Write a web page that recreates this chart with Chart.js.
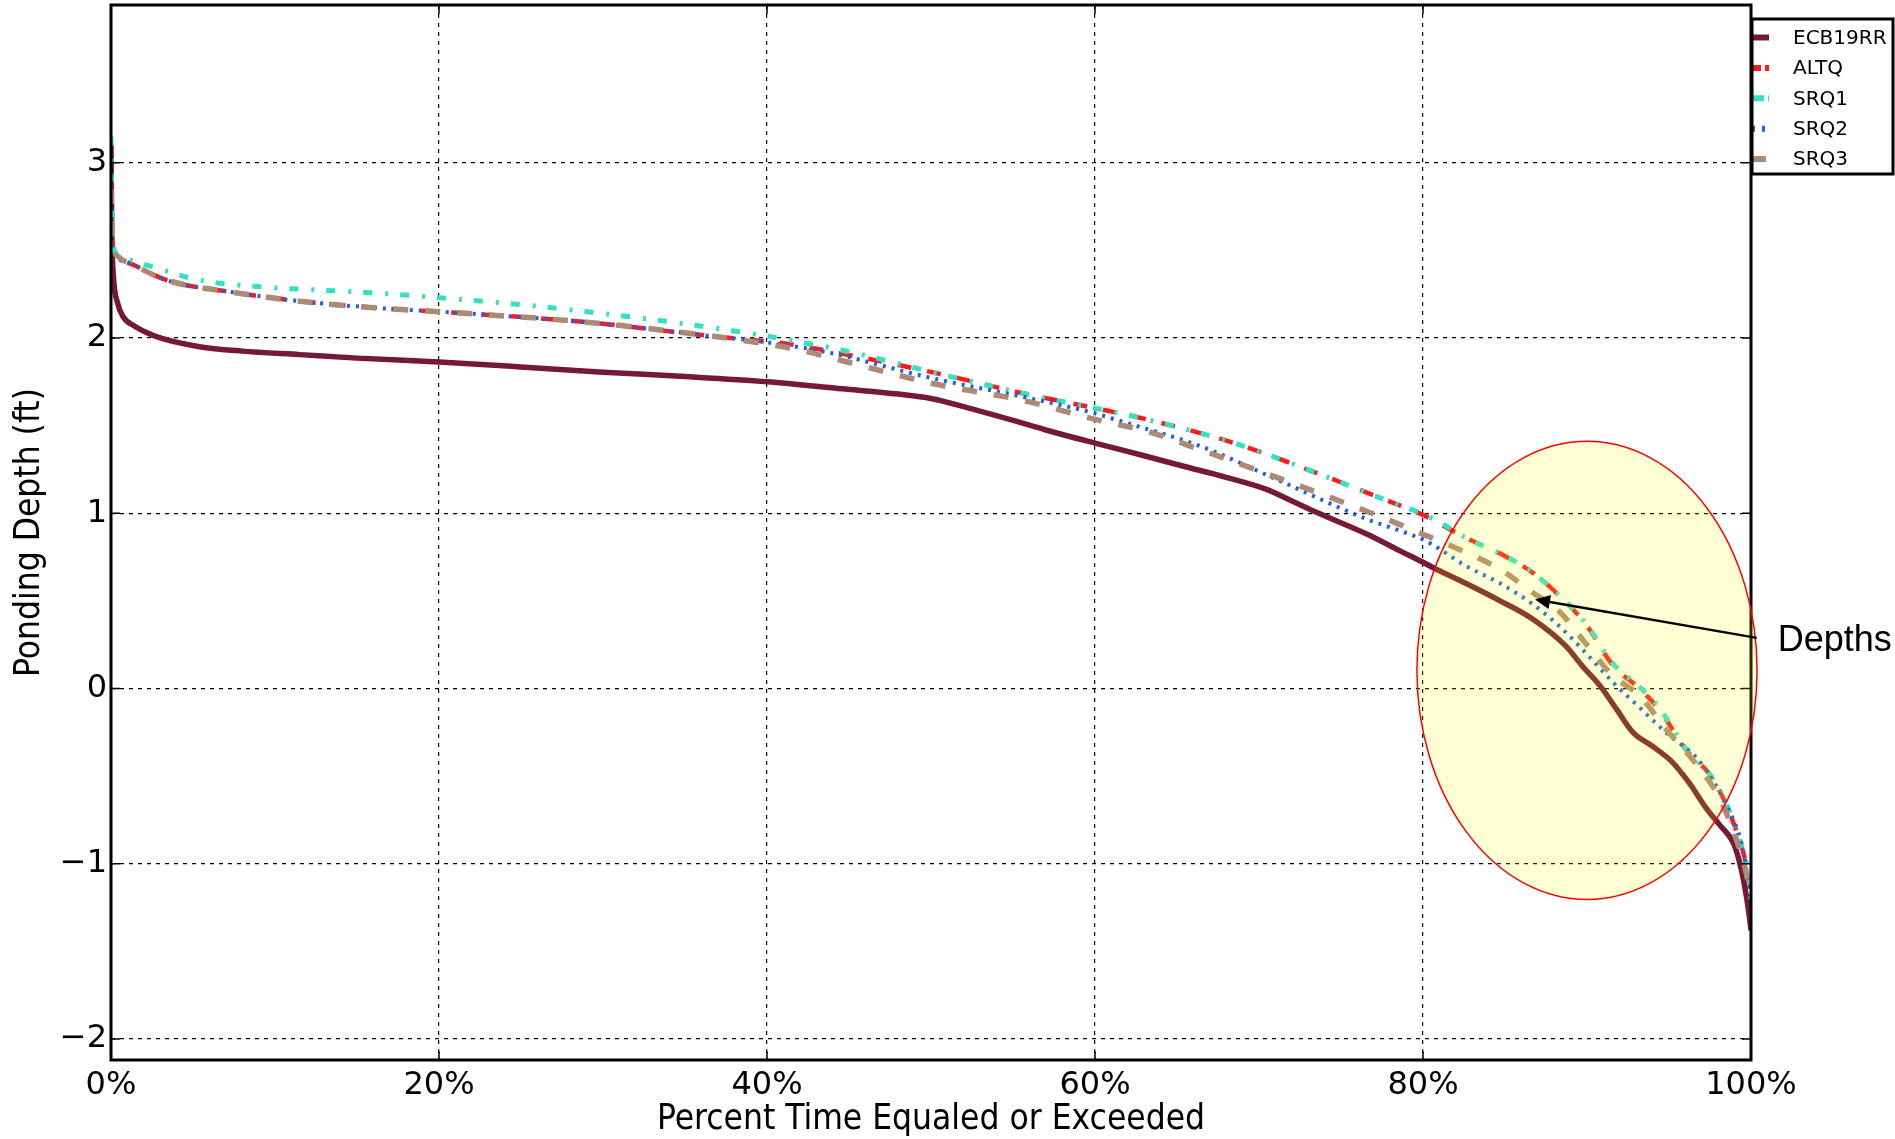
<!DOCTYPE html>
<html>
<head>
<meta charset="utf-8">
<script src="https://cdn.jsdelivr.net/npm/chart.js@4.4.1/dist/chart.umd.min.js"></script>
<style>
  html, body { margin: 0; padding: 0; background: #fff; }
  #wrap { width: 1895px; height: 1139px; }
</style>
</head>
<body>
<div id="wrap"><canvas id="depthChart"></canvas></div>
<script>
// [percent time equaled or exceeded, ponding depth ft]
const ecb19rr = [
  [0, 3.10], [0.05, 2.6], [0.15, 2.35], [0.4, 2.2], [0.75, 2.12], [1.4, 2.07], [2.2, 2.03],
  [3, 2.0], [5.4, 1.95], [8, 1.925], [11.5, 1.905], [15, 1.885], [20, 1.863], [25, 1.835],
  [30, 1.805], [35, 1.78], [40, 1.75], [44.6, 1.71], [48, 1.68], [50, 1.655], [52.7, 1.59],
  [55, 1.53], [57, 1.475], [60, 1.40], [63, 1.328], [65.4, 1.268], [68, 1.205], [70.5, 1.135],
  [72, 1.07], [73.5, 1.005], [76.6, 0.88], [78.6, 0.785], [80, 0.72], [80.6, 0.69], [82.6, 0.60],
  [84.7, 0.50], [86.7, 0.395], [88.7, 0.243], [89.7, 0.13], [90.8, 0.015], [91.8, -0.118],
  [92.8, -0.25], [94, -0.33], [95.2, -0.42], [96.2, -0.535], [97.3, -0.687], [98.1, -0.78],
  [98.9, -0.877], [99.3, -0.99], [99.6, -1.12], [99.9, -1.30], [100, -1.38]
];
const altq = [
  [0, 2.9], [0.05, 2.65], [0.15, 2.5], [0.5, 2.45], [1.3, 2.42], [3.4, 2.33], [7.5, 2.26],
  [11.5, 2.21], [16.4, 2.17], [20, 2.15], [29, 2.09], [36.7, 2.01], [40, 1.98], [41, 1.97],
  [44.6, 1.91], [50.3, 1.80], [55.8, 1.68], [60, 1.60], [63.4, 1.53], [68.5, 1.40],
  [73.5, 1.23], [77.6, 1.08], [80, 0.99], [82.6, 0.86], [84.7, 0.77], [86.7, 0.66],
  [88.3, 0.53], [89.9, 0.37], [91.6, 0.13], [93.2, 0.0], [94.4, -0.12], [96, -0.345],
  [97.7, -0.52], [98.9, -0.76], [99.7, -1.0], [100, -1.15]
];
const srq1 = [
  [0, 3.15], [0.05, 2.7], [0.15, 2.52], [0.5, 2.47], [1.3, 2.44], [2.4, 2.41], [5.4, 2.33],
  [9.5, 2.29], [15.6, 2.26], [20, 2.23], [25, 2.19], [29, 2.15], [35, 2.08], [40, 2.01],
  [44.6, 1.93], [50.3, 1.80], [55.8, 1.68], [60, 1.60], [63.4, 1.53], [68.5, 1.40],
  [73.5, 1.23], [77.6, 1.08], [80, 0.995], [81, 0.95], [82.6, 0.86], [84.7, 0.77],
  [86.7, 0.66], [88.3, 0.53], [89.9, 0.375], [91.6, 0.14], [93.2, 0.01], [94.4, -0.11],
  [96, -0.34], [97.7, -0.52], [98.9, -0.75], [99.7, -0.99], [100, -1.12]
];
const srq2 = [
  [0, 3.0], [0.05, 2.6], [0.15, 2.5], [0.5, 2.45], [1.3, 2.42], [3.4, 2.33], [7.5, 2.26],
  [11.5, 2.21], [16.4, 2.17], [20, 2.15], [29, 2.09], [36.7, 2.01], [40, 1.975],
  [43.6, 1.92], [50.1, 1.77], [55.8, 1.66], [60, 1.57], [61.4, 1.53], [66.5, 1.38],
  [71.5, 1.175], [76.6, 0.965], [78.6, 0.90], [80, 0.85], [80.6, 0.82], [82.6, 0.70],
  [84.7, 0.60], [86.7, 0.48], [88.3, 0.357], [89.9, 0.205], [91.6, 0.034], [93.2, -0.108],
  [94.8, -0.25], [96.9, -0.42], [98.5, -0.668], [99.5, -0.915], [99.8, -1.085], [100, -1.2]
];
const srq3 = [
  [0, 2.85], [0.05, 2.62], [0.15, 2.52], [0.5, 2.46], [1.3, 2.42], [3.4, 2.33], [7.5, 2.26],
  [11.5, 2.21], [16.4, 2.17], [20, 2.15], [29, 2.09], [36.7, 2.01], [40, 1.965],
  [41.8, 1.935], [44.6, 1.87], [50.1, 1.74], [55.8, 1.64], [59.4, 1.55], [61.2, 1.51],
  [63.1, 1.47], [66.5, 1.36], [71.5, 1.19], [76.6, 1.01], [78.6, 0.935], [80, 0.88],
  [81.8, 0.81], [84.7, 0.68], [86.7, 0.546], [88.3, 0.44], [89.9, 0.26], [91.6, 0.07],
  [93.2, -0.04], [94.8, -0.23], [96.9, -0.46], [98.1, -0.63], [99.1, -0.86], [99.7, -1.05],
  [100, -1.2]
];

const seriesNames = ["ECB19RR", "ALTQ", "SRQ1", "SRQ2", "SRQ3"];
const xTicks = [0, 20, 40, 60, 80, 100];
const yTicks = [-2, -1, 0, 1, 2, 3];

// callout ellipse + arrow, in data units
const calloutCenter = [90.0, 0.103];
const calloutRadius = [10.37, 1.307];
const arrowTail = [100.35, 0.289];
const arrowTip = [86.83, 0.508];
const calloutText = "Depths";

const TICK_FONT = { family: "DejaVu Sans", size: 32 };
const TITLE_FONT = { family: "DejaVu Sans Condensed, DejaVu Sans", size: 35 };

function toXY(arr) {
  return arr.map((p) => ({ x: p[0], y: p[1] }));
}

function makeSet(label, arr, color, width, dash, order) {
  return {
    label,
    data: toXY(arr),
    borderColor: color,
    backgroundColor: color,
    borderWidth: width,
    borderDash: dash,
    borderCapStyle: "butt",
    borderJoinStyle: "round",
    pointRadius: 0,
    fill: false,
    cubicInterpolationMode: "monotone",
    order,
  };
}

// frame: inward ticks + thick box round the plot
const framePlugin = {
  id: "frame",
  afterDatasetsDraw(chart) {
    const { ctx, chartArea: a, scales } = chart;
    ctx.save();
    ctx.strokeStyle = "#000";
    ctx.lineWidth = 1.5;
    ctx.setLineDash([]);
    ctx.beginPath();
    for (const v of xTicks) {
      const px = scales.x.getPixelForValue(v);
      ctx.moveTo(px, a.bottom); ctx.lineTo(px, a.bottom - 9);
      ctx.moveTo(px, a.top); ctx.lineTo(px, a.top + 9);
    }
    for (const v of yTicks) {
      const py = scales.y.getPixelForValue(v);
      ctx.moveTo(a.left, py); ctx.lineTo(a.left + 9, py);
      ctx.moveTo(a.right, py); ctx.lineTo(a.right - 9, py);
    }
    ctx.stroke();
    ctx.lineWidth = 3;
    ctx.strokeRect(a.left, a.top, a.right - a.left, a.bottom - a.top);
    ctx.restore();
  },
};

const calloutPlugin = {
  id: "callout",
  afterDatasetsDraw(chart) {
    const { ctx, scales } = chart;
    const sx = scales.x, sy = scales.y;
    const cx = sx.getPixelForValue(calloutCenter[0]);
    const cy = sy.getPixelForValue(calloutCenter[1]);
    const rx = sx.getPixelForValue(calloutCenter[0] + calloutRadius[0]) - cx;
    const ry = cy - sy.getPixelForValue(calloutCenter[1] + calloutRadius[1]);
    ctx.save();
    ctx.beginPath();
    ctx.ellipse(cx, cy, rx, ry, 0, 0, Math.PI * 2);
    ctx.fillStyle = "rgba(255,255,0,0.16)";
    ctx.fill();
    ctx.strokeStyle = "#ff0000";
    ctx.lineWidth = 1.5;
    ctx.stroke();

    const tx = sx.getPixelForValue(arrowTail[0]), ty = sy.getPixelForValue(arrowTail[1]);
    const hx = sx.getPixelForValue(arrowTip[0]), hy = sy.getPixelForValue(arrowTip[1]);
    const ang = Math.atan2(hy - ty, hx - tx);
    const headLen = 15, headW = 7;
    const bx = hx - headLen * Math.cos(ang), by = hy - headLen * Math.sin(ang);
    ctx.strokeStyle = "#000";
    ctx.fillStyle = "#000";
    ctx.lineWidth = 2.3;
    ctx.beginPath();
    ctx.moveTo(tx, ty);
    ctx.lineTo(bx, by);
    ctx.stroke();
    ctx.beginPath();
    ctx.moveTo(hx, hy);
    ctx.lineTo(bx + headW * Math.sin(ang), by - headW * Math.cos(ang));
    ctx.lineTo(bx - headW * Math.sin(ang), by + headW * Math.cos(ang));
    ctx.closePath();
    ctx.fill();

    ctx.font = "36px 'Liberation Sans', Arial, sans-serif";
    ctx.textAlign = "left";
    ctx.textBaseline = "alphabetic";
    ctx.fillText(calloutText, tx + 21, ty + 13);
    ctx.restore();
  },
};

// legend swatch dashes (shorter than the plotted ones so a few show)
const legendDash = [[], [9, 4], [12, 4], [3, 7], [14, 4]];

// legend box sitting on the right edge of the plot
const legendBoxPlugin = {
  id: "legendBox",
  afterDraw(chart) {
    const { ctx, chartArea: a } = chart;
    const left = a.right + 1, top = 19, right = 1893, bottom = 174;
    ctx.save();
    ctx.fillStyle = "#fff";
    ctx.fillRect(left, top, right - left, bottom - top);
    chart.data.datasets.forEach((ds, i) => {
      const y = 37.5 + i * 30.4;
      ctx.strokeStyle = ds.borderColor;
      ctx.lineWidth = 6;
      ctx.lineCap = "butt";
      ctx.setLineDash(legendDash[i]);
      ctx.beginPath();
      ctx.moveTo(left, y);
      ctx.lineTo(left + 17, y);
      ctx.stroke();
      ctx.setLineDash([]);
      ctx.fillStyle = "#000";
      ctx.font = "20px 'DejaVu Sans'";
      ctx.textBaseline = "middle";
      ctx.fillText(ds.label, 1793, y + 1);
    });
    ctx.strokeStyle = "#000";
    ctx.lineWidth = 3;
    ctx.strokeRect(left, top, right - left, bottom - top);
    ctx.restore();
  },
};

const datasets = [
  makeSet(seriesNames[0], ecb19rr, "#741a33", 5.5, [], 5),
  makeSet(seriesNames[1], altq, "#ff1a1a", 4.5, [14, 16], 4),
  makeSet(seriesNames[2], srq1, "#33e0c4", 5, [9, 13, 3, 12], 3),
  makeSet(seriesNames[3], srq2, "#1f5fe6", 4, [3, 6], 2),
  makeSet(seriesNames[4], srq3, "#ad8a72", 5.5, [15, 17], 1),
];

new Chart(document.getElementById("depthChart"), {
  type: "line",
  data: { datasets },
  plugins: [framePlugin, calloutPlugin, legendBoxPlugin],
  options: {
    responsive: true,
    maintainAspectRatio: false,
    animation: false,
    layout: { padding: { top: 5, right: 144, left: 0, bottom: 0 } },
    plugins: { legend: { display: false }, tooltip: { enabled: false } },
    scales: {
      x: {
        type: "linear",
        min: 0,
        max: 100,
        afterBuildTicks: (axis) => { axis.ticks = xTicks.map((v) => ({ value: v })); },
        afterFit: (axis) => { axis.height = 79; axis.paddingLeft = 0; axis.paddingRight = 0; },
        ticks: {
          color: "#000",
          font: TICK_FONT,
          padding: 6,
          maxRotation: 0,
          callback: (v) => v + "%",
        },
        grid: { color: "#000", lineWidth: 1.2, drawTicks: false },
        border: { display: false, dash: [4, 5] },
        title: {
          display: true,
          text: "Percent Time Equaled or Exceeded",
          color: "#000",
          font: { ...TITLE_FONT, lineHeight: 1 },
          padding: { top: 0, bottom: 2 },
        },
      },
      y: {
        type: "linear",
        min: -2.12,
        max: 3.9,
        afterBuildTicks: (axis) => { axis.ticks = yTicks.map((v) => ({ value: v })); },
        afterFit: (axis) => { axis.width = 111; axis.paddingTop = 0; axis.paddingBottom = 0; },
        ticks: {
          color: "#000",
          font: TICK_FONT,
          padding: 4,
          callback: (v) => (v < 0 ? "\u2212" + Math.abs(v) : String(v)),
        },
        grid: { color: "#000", lineWidth: 1.2, drawTicks: false },
        border: { display: false, dash: [4, 5] },
        title: {
          display: true,
          text: "Ponding Depth (ft)",
          color: "#000",
          font: { ...TITLE_FONT, lineHeight: 1 },
          padding: { top: 12, bottom: 0 },
        },
      },
    },
  },
});
</script>
</body>
</html>
